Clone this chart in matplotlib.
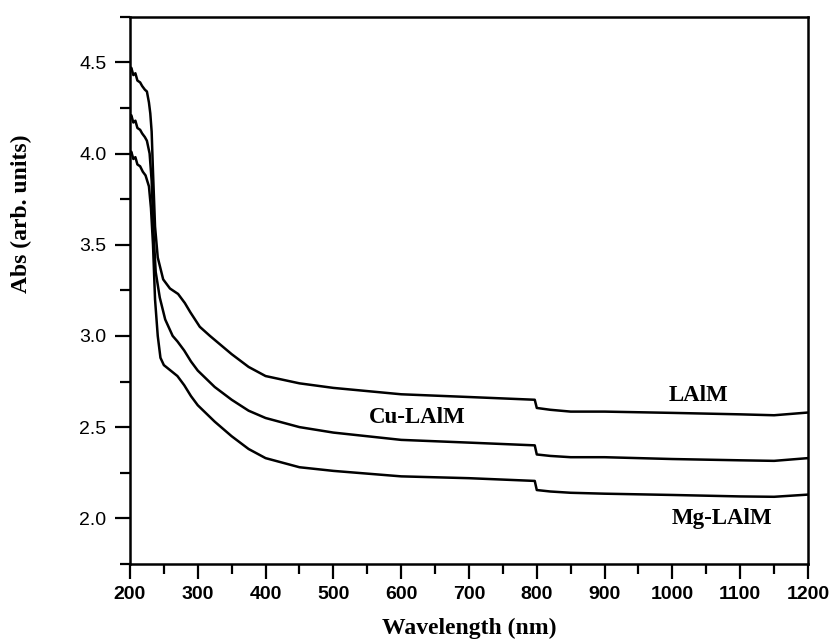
import numpy as np
import matplotlib.pyplot as plt
from matplotlib.ticker import MultipleLocator

# wavelength (nm) / absorbance
WL_LALM = [200, 202, 205, 208, 211, 215, 218, 222, 225, 228, 230, 232, 234, 237, 241,
           249, 259, 271, 281, 289, 303, 318, 350, 375, 400, 450, 500, 600, 700,
           797, 800, 820, 850, 900, 1000, 1100, 1150, 1200]
ABS_LALM = [4.46, 4.47, 4.43, 4.44, 4.40, 4.39, 4.37, 4.35, 4.34, 4.28, 4.22, 4.12, 3.90,
            3.60, 3.43, 3.31, 3.26, 3.23, 3.18, 3.13, 3.05, 3.00, 2.90, 2.83, 2.78,
            2.74, 2.715, 2.68, 2.665, 2.65, 2.605, 2.595, 2.585, 2.585, 2.578, 2.57,
            2.565, 2.58]

WL_CU = [200, 202, 205, 208, 211, 215, 218, 222, 225, 229, 232, 235, 238, 244,
         252, 263, 270, 280, 290, 300, 325, 350, 375, 400, 450, 500, 600, 700,
         797, 800, 820, 850, 900, 1000, 1100, 1150, 1200]
ABS_CU = [4.20, 4.21, 4.17, 4.18, 4.14, 4.13, 4.11, 4.09, 4.07, 4.00, 3.85, 3.55, 3.35,
          3.21, 3.09, 3.00, 2.97, 2.92, 2.86, 2.81, 2.72, 2.65, 2.59, 2.55, 2.50,
          2.47, 2.43, 2.415, 2.40, 2.35, 2.342, 2.335, 2.335, 2.325, 2.318, 2.315, 2.33]

WL_MG = [200, 202, 205, 208, 211, 215, 219, 223, 228, 231, 234, 237, 241, 245,
         250, 260, 270, 280, 290, 300, 325, 350, 375, 400, 450, 500, 600, 700,
         797, 800, 820, 850, 900, 1000, 1100, 1150, 1200]
ABS_MG = [4.00, 4.01, 3.97, 3.98, 3.94, 3.93, 3.90, 3.88, 3.82, 3.70, 3.50, 3.20, 3.00,
          2.88, 2.84, 2.81, 2.78, 2.73, 2.67, 2.62, 2.53, 2.45, 2.38, 2.33, 2.28,
          2.26, 2.23, 2.22, 2.205, 2.155, 2.147, 2.14, 2.135, 2.128, 2.12, 2.118, 2.13]

LABELS = ["LAlM", "Cu-LAlM", "Mg-LAlM"]
LABEL_POS = [(1038, 2.676), (623, 2.555), (1073, 2.00)]

SERIF = ["Liberation Serif", "DejaVu Serif"]
plt.rcParams["font.family"] = ["Liberation Sans", "DejaVu Sans"]

fig = plt.figure(figsize=(8.33, 6.43), dpi=100)
ax = fig.add_axes([0.156, 0.123, 0.814, 0.851])

for wl, ab in [(WL_LALM, ABS_LALM), (WL_CU, ABS_CU), (WL_MG, ABS_MG)]:
    ax.plot(wl, ab, color="black", linewidth=1.8)

for text, (x, y) in zip(LABELS, LABEL_POS):
    ax.text(x, y, text, ha="center", va="center", fontsize=16.5, fontweight="bold",
            family=SERIF)

ax.set_xlim(200, 1200)
ax.set_ylim(1.75, 4.75)
ax.xaxis.set_major_locator(MultipleLocator(100))
ax.xaxis.set_minor_locator(MultipleLocator(50))
ax.yaxis.set_major_locator(MultipleLocator(0.5))
ax.yaxis.set_minor_locator(MultipleLocator(0.25))
ax.yaxis.set_major_formatter(plt.FormatStrFormatter("%.1f"))

ax.tick_params(which="both", direction="out", width=1.6, top=False, right=False)
ax.tick_params(which="major", length=11)
ax.tick_params(which="minor", length=7)
ax.tick_params(axis="x", which="major", labelsize=14, pad=5)
ax.tick_params(axis="y", which="major", labelsize=14, pad=6)
for lbl in ax.get_xticklabels():
    lbl.set_fontweight("bold")
for sp in ax.spines.values():
    sp.set_linewidth(1.8)

ax.set_xlabel("Wavelength (nm)", fontsize=17, fontweight="bold", family=SERIF)
ax.xaxis.set_label_coords(0.5, -0.098)
ax.set_ylabel("Abs (arb. units)", fontsize=17, fontweight="bold", family=SERIF)
ax.yaxis.set_label_coords(-0.145, 0.64)

fig.savefig("out.png", dpi=100)
